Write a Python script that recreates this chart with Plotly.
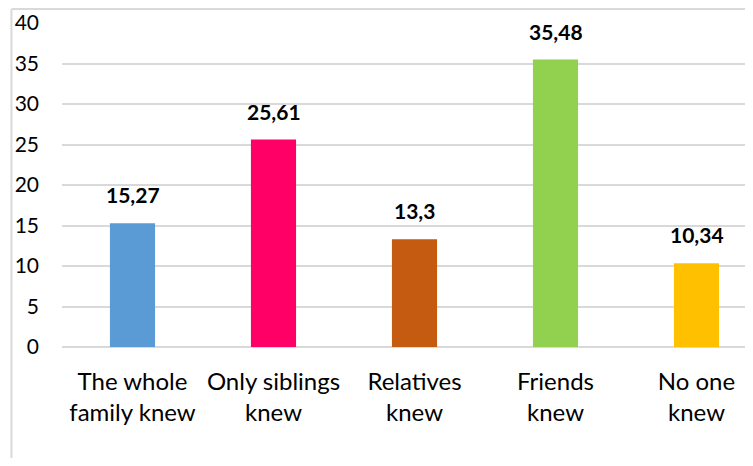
import plotly.graph_objects as go

categories = ["The whole<br>family knew", "Only siblings<br>knew", "Relatives<br>knew", "Friends<br>knew", "No one<br>knew"]
values = [15.27, 25.61, 13.3, 35.48, 10.34]
value_labels = ["15,27", "25,61", "13,3", "35,48", "10,34"]
bar_colors = ["#5B9BD5", "#FF0066", "#C55A11", "#92D050", "#FFC000"]
y_ticks = [0, 5, 10, 15, 20, 25, 30, 35, 40]

FONT = "Lato"

fig = go.Figure()
fig.add_trace(go.Bar(
    x=list(range(len(categories))),
    y=values,
    marker=dict(color=bar_colors, line=dict(width=0)),
    width=0.32,
    hoverinfo="skip",
))

# value labels above bars
for i, (v, lab) in enumerate(zip(values, value_labels)):
    fig.add_annotation(
        x=i, y=v, text=f"<b>{lab}</b>", showarrow=False,
        yanchor="bottom", yshift=14,
        font=dict(family=FONT, size=21, color="black"),
    )

# outer frame: only the top and left edges are visible in the crop
frame = dict(color="#d9d9d9", width=2)
fig.add_shape(type="line", xref="paper", yref="paper",
              x0=-0.074, x1=1.0, y0=1.043, y1=1.043, line=frame)
fig.add_shape(type="line", xref="paper", yref="paper",
              x0=-0.074, x1=-0.074, y0=-0.36, y1=1.043, line=frame)

fig.update_layout(
    width=737,
    height=450,
    margin=dict(l=54, r=0, t=15, b=111),
    plot_bgcolor="white",
    paper_bgcolor="white",
    showlegend=False,
    font=dict(family=FONT, color="black"),
    xaxis=dict(
        tickmode="array",
        tickvals=list(range(len(categories))),
        ticktext=categories,
        range=[-0.5, 4.344],
        showgrid=False,
        showline=False,
        ticks="",
        tickfont=dict(size=24),
        ticklabelstandoff=18,
    ),
    yaxis=dict(
        range=[0, 40],
        tickvals=y_ticks,
        showgrid=True,
        gridcolor="#d9d9d9",
        gridwidth=1.5,
        zeroline=True,
        zerolinecolor="#d9d9d9",
        zerolinewidth=1.5,
        showline=False,
        ticks="",
        tickfont=dict(size=21),
        ticklabelstandoff=22,
    ),
)

fig.write_html("out.html")
